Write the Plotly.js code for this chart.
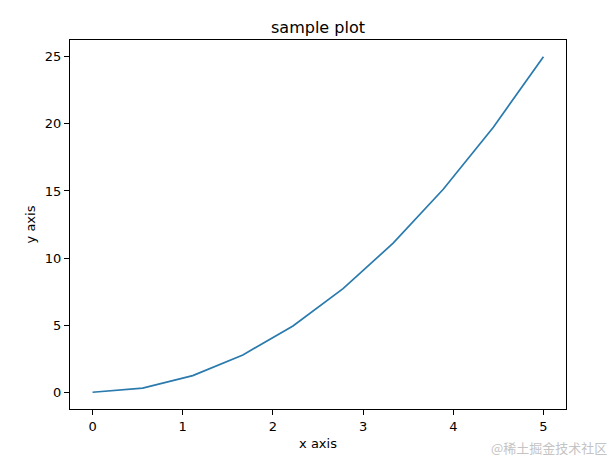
<!DOCTYPE html>
<html>
<head>
<meta charset="utf-8">
<script src="https://cdn.plot.ly/plotly-3.0.1.min.js"></script>
<style>html,body{margin:0;padding:0;background:#fff;}#chart{width:611px;height:459px;}</style>
</head>
<body>
<div id="chart"></div>
<script>
const xValues = [0, 0.5556, 1.1111, 1.6667, 2.2222, 2.7778, 3.3333, 3.8889, 4.4444, 5];
const yValues = [0, 0.3086, 1.2346, 2.7778, 4.9383, 7.7160, 11.1111, 15.1235, 19.7531, 25];
const xTicks = [0, 1, 2, 3, 4, 5];
const yTicks = [0, 5, 10, 15, 20, 25];
const chartTitle = "sample plot";
const xLabel = "x axis";
const yLabel = "y axis";
const watermark = "@稀土掘金技术社区";

const font = "DejaVu Sans, sans-serif";
const axisCommon = {
  showline: true, linecolor: "#000", linewidth: 1, mirror: true,
  ticks: "outside", ticklen: 5, tickwidth: 1, tickcolor: "#000",
  showgrid: false, zeroline: false,
  tickfont: {family: font, size: 13, color: "#000"}
};
Plotly.newPlot("chart", [{
  x: xValues, y: yValues, type: "scatter", mode: "lines",
  line: {color: "#2a7aae", width: 1.7}
}], {
  width: 611, height: 459,
  margin: {l: 70, r: 45, t: 40, b: 50},
  paper_bgcolor: "#fff", plot_bgcolor: "#fff",
  showlegend: false,
  title: {text: chartTitle, font: {family: font, size: 16, color: "#000"},
          x: 0.5, xref: "paper", y: 1, yref: "paper", yanchor: "bottom", pad: {b: 7}},
  xaxis: Object.assign({}, axisCommon, {
    range: [-0.25, 5.25], tickvals: xTicks,
    title: {text: xLabel, font: {family: font, size: 13, color: "#000"}, standoff: 6}
  }),
  yaxis: Object.assign({}, axisCommon, {
    range: [-1.25, 26.25], tickvals: yTicks,
    title: {text: yLabel, font: {family: font, size: 13, color: "#000"}, standoff: 6}
  }),
  annotations: [{
    text: watermark, xref: "paper", yref: "paper", x: 1.085, y: -0.103,
    xanchor: "right", yanchor: "middle", showarrow: false, borderpad: 0,
    font: {family: "Noto Sans CJK SC, sans-serif", size: 13, color: "#c4c4c4"}
  }]
}, {displayModeBar: false, staticPlot: true});
</script>
</body>
</html>
